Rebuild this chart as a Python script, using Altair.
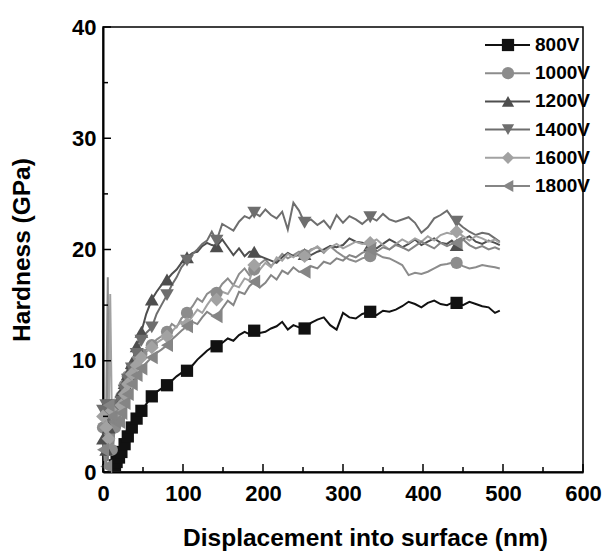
import altair as alt
import pandas as pd

series = ["800V", "1000V", "1200V", "1400V", "1600V", "1800V"]
colors = ["#111111", "#8c8c8c", "#4e4e4e", "#6e6e6e", "#a2a2a2", "#858585"]
shapes = ["square", "circle", "triangle-up", "triangle-down", "diamond", "triangle-left"]

x_ticks = [0, 100, 200, 300, 400, 500, 600]
x_minor = [50, 150, 250, 350, 450, 550]
y_ticks = [0, 10, 20, 30, 40]
y_minor = [5, 15, 25, 35]

x_nm = [0, 2, 4, 6, 7, 9, 11, 13, 15, 17,
        20, 23, 27, 31, 36, 42, 48, 54, 61, 67,
        73, 80, 86, 92, 98, 105, 112, 118, 124, 130,
        136, 142, 149, 156, 163, 170, 177, 183, 189, 196,
        203, 210, 217, 224, 231, 238, 245, 252, 260, 268,
        276, 284, 292, 300, 308, 316, 324, 334, 342, 350,
        358, 366, 374, 382, 390, 398, 406, 414, 422, 430,
        436, 442, 450, 458, 466, 474, 482, 490, 496]

h_800 = [0, 0, 0, 0, 0, 0, 0.2, 0.4, 0.6, 0.9,
         1.3, 1.8, 2.5, 3.2, 4.0, 4.8, 5.5, 6.1, 6.8, 7.2,
         7.5, 7.8, 8.2, 8.6, 8.9, 9.1, 9.6, 10.1, 10.5, 10.9,
         11.2, 11.3, 11.6, 12.0, 11.8, 12.3, 12.6, 12.4, 12.7, 12.5,
         12.6, 12.9, 13.1, 13.5, 12.8, 13.2, 13.0, 12.9, 13.4, 13.7,
         13.9, 13.2, 12.8, 14.3, 13.9, 13.8, 14.2, 14.4, 14.1, 14.5,
         14.4, 14.6, 14.9, 15.3, 15.1, 14.8, 15.2, 15.4, 15.1, 15.0,
         15.2, 15.2, 15.0, 15.3, 15.1, 14.9, 14.8, 14.3, 14.5]

h_1000 = [4, 1, 5.5, 17.5, 3, 5, 2, 5.8, 4, 6,
          6.0, 6.8, 7.8, 8.6, 9.3, 10.0, 10.6, 11.0, 11.4, 11.9,
          12.2, 12.6, 13.3, 13.0, 13.8, 14.3, 14.9, 15.6, 15.3, 16.0,
          16.3, 16.1, 16.9, 17.4, 16.8, 17.8, 18.3, 17.7, 18.2, 18.7,
          19.1, 18.5, 19.0, 19.6, 19.2, 19.5, 19.8, 19.5, 20.0, 20.2,
          19.7, 20.3, 19.8, 19.4, 19.1, 18.9, 19.2, 19.4, 19.6, 19.3,
          19.2, 18.9, 18.6, 17.7, 17.9, 17.8, 18.0, 18.3, 18.6, 18.7,
          18.8, 18.8, 18.5, 18.3, 18.4, 18.6, 18.5, 18.4, 18.3]

h_1200 = [3, 6, 2, 5, 4, 1.5, 6, 4.5, 5.5, 6,
          6.5, 7.2, 8.0, 8.8, 9.8, 11.3, 12.6, 14.2, 15.5, 16.2,
          16.8, 17.3, 17.8, 18.2, 18.8, 19.3, 19.7, 19.8, 20.3, 20.6,
          20.4, 20.3, 20.9, 20.2, 19.5, 20.1, 19.4, 19.8, 19.8, 19.4,
          19.2, 19.0, 18.8, 19.3, 19.7, 19.4, 19.5, 19.6, 19.5, 19.8,
          20.0, 20.3, 20.2, 20.4, 21.0, 20.7, 20.6, 20.4, 20.1, 20.5,
          20.9, 20.6, 20.2, 20.5, 20.9, 20.4, 20.7, 21.0, 20.6, 20.5,
          20.8, 20.4, 20.9, 21.2, 20.7, 20.5, 20.8, 20.6, 20.4]

h_1400 = [5.5, 3, 6, 1, 5, 4, 6, 3.5, 5.5, 5,
          5.5, 6.3, 7.3, 8.3, 9.3, 10.6, 11.8, 12.5, 13.0, 14.2,
          15.0, 15.9, 16.8, 17.5, 18.4, 19.0, 19.6, 20.0, 20.5, 20.8,
          21.6, 20.8, 22.3, 22.0, 21.7, 22.5, 23.0, 22.8, 23.3, 23.0,
          23.6, 23.1, 22.8, 23.4, 21.8, 24.2, 23.5, 22.4, 22.7, 22.2,
          22.6, 21.9, 23.1, 22.4, 23.0, 22.7, 22.3, 22.9, 22.6, 23.2,
          22.7, 22.5, 22.7, 22.9, 22.4, 21.5, 22.0, 22.8, 23.1, 23.5,
          22.9, 22.5, 22.0, 21.6, 21.3, 21.5, 21.4, 21.0, 20.7]

h_1600 = [5, 2, 4, 6, 3, 16, 5.5, 3, 5, 4.5,
          5.0, 6.0, 7.0, 7.9, 8.8, 9.6, 10.3, 10.8, 11.2, 11.6,
          11.9, 12.2, 12.6, 13.1, 13.5, 13.3, 14.0, 14.6, 14.3, 15.0,
          15.6, 15.5, 16.2, 16.0, 16.8, 16.6, 17.4, 17.2, 18.6, 18.2,
          18.8, 18.4, 19.3, 19.0, 19.6, 19.3, 19.7, 19.4, 19.9, 20.3,
          19.8, 20.2, 20.5, 20.1, 20.4, 20.7, 20.5, 20.6, 20.9, 20.4,
          20.0, 20.5, 20.9, 20.6, 21.0, 20.7, 21.2, 20.8, 21.3, 21.5,
          21.4, 21.6, 21.2, 20.8, 21.2, 21.0, 20.7, 20.9, 20.6]

h_1800 = [2, 5, 0.5, 4, 6, 3, 5, 2.5, 4.5, 4,
          4.5, 5.3, 6.2, 7.0, 7.9, 8.7, 9.3, 9.8, 10.3, 10.7,
          11.0, 11.4, 11.9, 12.3, 12.7, 13.1, 13.5, 13.3, 13.9, 14.4,
          14.1, 14.0, 14.7, 15.4, 15.0, 16.2, 16.0, 16.7, 17.1, 16.6,
          17.0, 17.7, 17.3, 18.1, 17.8, 18.4, 18.0, 18.0, 18.5, 18.3,
          18.9, 18.7, 19.2, 19.0, 19.5, 19.3, 19.7, 20.0, 19.8, 20.2,
          20.0, 20.4, 20.2, 19.9, 20.3, 20.7, 20.4, 20.1, 20.6, 20.3,
          20.5, 20.6, 20.9, 20.4, 20.1, 20.3, 20.0, 20.2, 20.0]

marker_idx_black = [8, 9, 10, 11, 12, 13, 14, 15, 16, 18, 21, 25, 31, 38, 47, 57, 71]
marker_idx_gray = [0, 2, 4, 6, 8, 10, 11, 12, 13, 14, 15, 16, 18, 21, 25, 31, 38, 47, 57, 71]

all_h = [h_800, h_1000, h_1200, h_1400, h_1600, h_1800]
rows = []
for k, (name, hs) in enumerate(zip(series, all_h)):
    midx = marker_idx_black if k == 0 else marker_idx_gray
    for i, (xv, yv) in enumerate(zip(x_nm, hs)):
        rows.append({"series": name, "x": xv, "y": yv, "order": i, "marker": i in midx})
df = pd.DataFrame(rows)
legend_df = pd.DataFrame({"series": series, "row": list(range(len(series)))})

FONT = "Liberation Sans"
PW, PH = 480, 445
MARK_SIZES = [150, 150, 190, 190, 190, 190]

xs = alt.Scale(domain=[0, 600], nice=False, zero=False)
ys = alt.Scale(domain=[0, 40], nice=False, zero=False)
stroke_scale = alt.Scale(domain=series, range=colors)

x_main_axis = alt.Axis(orient="bottom", values=x_ticks, ticks=False, grid=False,
                       domain=True, domainColor="black", domainWidth=2,
                       labelFont=FONT, labelFontSize=22, labelFontWeight="bold",
                       labelColor="black", labelPadding=11, labelFlush=False,
                       labelOverlap=False,
                       title="Displacement into surface (nm)", titleFont=FONT,
                       titleFontSize=24.5, titleFontWeight="bold", titleColor="black",
                       titleX=262, titlePadding=22)
y_main_axis = alt.Axis(orient="left", values=y_ticks, ticks=False, grid=False,
                       domain=True, domainColor="black", domainWidth=2,
                       labelFont=FONT, labelFontSize=22, labelFontWeight="bold",
                       labelColor="black", labelPadding=7, labelFlush=False,
                       labelOverlap=False,
                       title="Hardness (GPa)", titleFont=FONT,
                       titleFontSize=24.5, titleFontWeight="bold", titleColor="black",
                       titlePadding=37)

lines = alt.Chart(df).mark_line(strokeWidth=2).encode(
    x=alt.X("x:Q", scale=xs, axis=x_main_axis),
    y=alt.Y("y:Q", scale=ys, axis=y_main_axis),
    stroke=alt.Stroke("series:N", scale=stroke_scale, legend=None),
    order=alt.Order("order:Q"),
)

point_layers = []
for name, col, shp, sz in zip(series, colors, shapes, MARK_SIZES):
    point_layers.append(
        alt.Chart(df).transform_filter(
            f"datum.series === '{name}' && datum.marker"
        ).mark_point(shape=shp, filled=True, color=col, size=sz, opacity=1).encode(
            x=alt.X("x:Q", scale=xs, axis=None),
            y=alt.Y("y:Q", scale=ys, axis=None),
        )
    )


def x_tick_layer(vals, length):
    return alt.Chart(pd.DataFrame({"v": vals})).mark_rule(color="black", strokeWidth=1.5).encode(
        x=alt.X("v:Q", scale=xs, axis=None),
        y=alt.value(PH), y2=alt.value(PH - length),
    )


def y_tick_layer(vals, length):
    return alt.Chart(pd.DataFrame({"v": vals})).mark_rule(color="black", strokeWidth=1.5).encode(
        y=alt.Y("v:Q", scale=ys, axis=None),
        x=alt.value(0), x2=alt.value(length),
    )


tick_layers = [x_tick_layer(x_ticks, 8), x_tick_layer(x_minor, 5),
               y_tick_layer(y_ticks, 8), y_tick_layer(y_minor, 5)]

# legend built from the series list (rows placed by a linear row scale)
leg_y = alt.Y("row:Q", scale=alt.Scale(domain=[0, 5], range=[18, 159], nice=False, zero=False), axis=None)
leg_line = alt.Chart(legend_df).mark_rule(strokeWidth=2).encode(
    y=leg_y, x=alt.value(382), x2=alt.value(427),
    stroke=alt.Stroke("series:N", scale=stroke_scale, legend=None),
)
leg_pts = alt.Chart(legend_df).mark_point(filled=True, opacity=1).encode(
    y=leg_y, x=alt.value(405),
    shape=alt.Shape("series:N", scale=alt.Scale(domain=series, range=shapes), legend=None),
    fill=alt.Fill("series:N", scale=alt.Scale(domain=series, range=colors), legend=None),
    size=alt.Size("series:N", scale=alt.Scale(domain=series, range=MARK_SIZES), legend=None),
)
leg_txt = alt.Chart(legend_df).mark_text(
    align="left", baseline="middle", font=FONT, fontSize=19, fontWeight="bold", color="black"
).encode(y=leg_y, x=alt.value(432), text="series:N")

chart = alt.layer(lines, *point_layers, *tick_layers, leg_line, leg_pts, leg_txt).resolve_scale(
    y="independent"
).resolve_axis(
    x="independent", y="independent"
).properties(
    width=PW, height=PH,
    autosize=alt.AutoSizeParams(type="none"),
    padding={"left": 95, "top": 19, "right": 25, "bottom": 80},
    background="white",
).configure_view(stroke="black", strokeWidth=1.5)

chart.save("out.html", embed_options={"renderer": "svg", "actions": False})
